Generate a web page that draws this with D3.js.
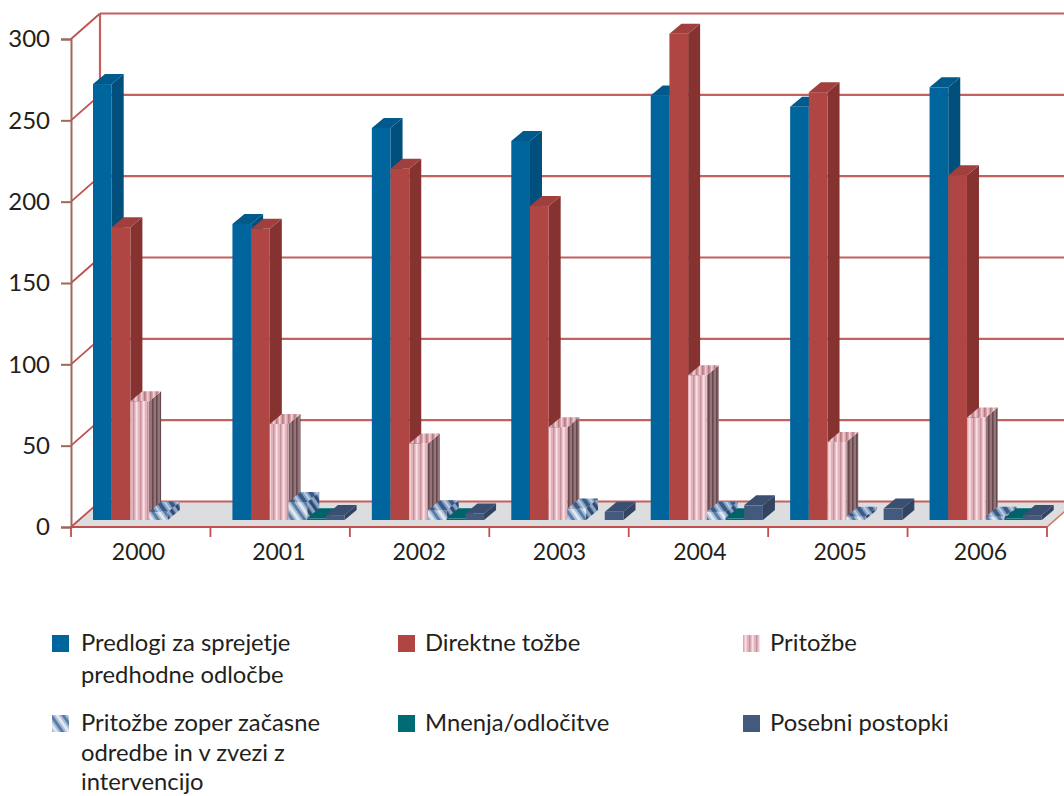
<!DOCTYPE html>
<html>
<head>
<meta charset="utf-8">
<script src="https://cdn.jsdelivr.net/npm/d3@7"></script>
<style>
  html, body { margin: 0; padding: 0; background: #fff; }
  svg { display: block; }
  text { font-family: Lato, "Open Sans", sans-serif; fill: #231f20; }
</style>
</head>
<body>
<div id="chart"></div>
<script>
const years = ['2000', '2001', '2002', '2003', '2004', '2005', '2006'];
const yTicks = [0, 50, 100, 150, 200, 250, 300];

const seriesNames = ['Predlogi', 'Direktne', 'Pritozbe', 'Zacasne', 'Mnenja', 'Posebni'];
const predlogi = [268, 182, 241, 233, 261, 254, 266];
const direktne = [180, 179, 216, 193, 299, 263, 212];
const pritozbe = [73, 59, 47, 57, 89, 48, 63];
const zacasne = [5, 11, 6, 7, 5, 2, 2];
const mnenja = [0, 1, 1, 0, 1, 0, 1];
const posebni = [0, 3, 4, 5, 9, 7, 3];
const seriesValues = [predlogi, direktne, pritozbe, zacasne, mnenja, posebni];

const legendLabels = [
    ['Predlogi za sprejetje', 'predhodne odločbe'],
    ['Direktne tožbe'],
    ['Pritožbe'],
    ['Pritožbe zoper začasne', 'odredbe in v zvezi z', 'intervencijo'],
    ['Mnenja/odločitve'],
    ['Posebni postopki']
];

const width = 1064, height = 796;
const wallDx = 29, wallDy = 25.5;   // depth of the back wall
const barDx = 12, barDy = 10;       // depth of a bar
const baseDx = 8, baseDy = 7;       // bars stand a bit behind the front edge

const svg = d3.select('#chart').append('svg')
    .attr('width', width)
    .attr('height', height);

const x = d3.scaleBand().domain(years).range([71, 1047]);
const xLabels = d3.scalePoint().domain(years).range([138, 980]);
const y = d3.scaleLinear().domain([0, 300]).range([527, 39]);
const xInner = d3.scaleBand().domain(seriesNames).range([14, 14 + 112.2]);

// Patterns and colours for each series
const defs = svg.append('defs');

function stripes(id, w, h, transform, bg, bands) {
    const p = defs.append('pattern')
        .attr('id', id)
        .attr('patternUnits', 'userSpaceOnUse')
        .attr('width', w)
        .attr('height', h);
    if (transform) p.attr('patternTransform', transform);
    p.append('rect').attr('width', w).attr('height', h).attr('fill', bg);
    bands.forEach(b => {
        p.append('rect').attr('x', b[0]).attr('width', b[1]).attr('height', h).attr('fill', b[2]);
    });
}

stripes('pinkFront', 7, 7, null, '#ecc3cb', [[0, 1.5, '#c4929a'], [3, 1.5, '#f7e0e4'], [5.5, 1, '#d9a4ad']]);
stripes('pinkSide', 4, 4, null, '#8a686c', [[0, 1.5, '#66494d'], [2.5, 1, '#a08287']]);
stripes('pinkTop', 6, 6, null, '#dba3ab', [[0, 1.5, '#b27e86'], [3, 1.5, '#f0cfd4']]);
stripes('hatchFront', 10, 10, 'rotate(-35)', '#dfe7f0', [[0, 3, '#5a7da8'], [3, 2, '#a9bdd6'], [8, 2, '#a9bdd6']]);
stripes('hatchTop', 10, 10, 'rotate(-35)', '#b9cbe0', [[0, 4, '#3a5b88'], [4, 2, '#86a0c2'], [8, 2, '#86a0c2']]);
stripes('hatchSide', 7, 7, 'rotate(-35)', '#8ea5c2', [[0, 3.5, '#2f4c76']]);

const seriesStyles = [
    { front: '#00659c', top: '#005a8b', side: '#004f7c' },
    { front: '#b04644', top: '#a03f3d', side: '#863230' },
    { front: 'url(#pinkFront)', top: 'url(#pinkTop)', side: 'url(#pinkSide)' },
    { front: 'url(#hatchFront)', top: 'url(#hatchTop)', side: 'url(#hatchSide)' },
    { front: '#006b74', top: '#00636b', side: '#005a62' },
    { front: '#435a7e', top: '#3b4f70', side: '#324461' }
];

// Walls and floor
const grid = svg.append('g');
const left = x.range()[0], right = x.range()[1];

grid.append('polygon')
    .attr('points', [[left, y(0)], [left + wallDx, y(0) - wallDy], [right + wallDx, y(0) - wallDy], [right, y(0)]].join(' '))
    .attr('fill', '#dcddde');

yTicks.forEach(t => {
    grid.append('line')
        .attr('x1', left + wallDx).attr('x2', width + 20)
        .attr('y1', y(t) - wallDy).attr('y2', y(t) - wallDy)
        .attr('stroke', '#c4605e').attr('stroke-width', 2.2);
    grid.append('line')
        .attr('x1', left).attr('x2', left + wallDx)
        .attr('y1', y(t)).attr('y2', y(t) - wallDy)
        .attr('stroke', '#c04f4d').attr('stroke-width', 1.8);
});

grid.append('line')
    .attr('x1', left + wallDx).attr('x2', left + wallDx)
    .attr('y1', y(300) - wallDy).attr('y2', y(0) - wallDy)
    .attr('stroke', '#c4605e').attr('stroke-width', 2.2);

grid.append('line')
    .attr('x1', right).attr('x2', right + wallDx)
    .attr('y1', y(0)).attr('y2', y(0) - wallDy)
    .attr('stroke', '#c9785f').attr('stroke-width', 1.6);

// Bars, left to right so each one covers the side of the one before
const bars = svg.append('g');

function drawBar(x0, yTop, yBase, w, style) {
    const g = bars.append('g');
    g.append('polygon')
        .attr('points', [[x0 + w, yTop], [x0 + w + barDx, yTop - barDy], [x0 + w + barDx, yBase - barDy], [x0 + w, yBase]].join(' '))
        .attr('fill', style.side);
    g.append('polygon')
        .attr('points', [[x0, yTop], [x0 + barDx, yTop - barDy], [x0 + w + barDx, yTop - barDy], [x0 + w, yTop]].join(' '))
        .attr('fill', style.top);
    g.append('rect')
        .attr('x', x0).attr('y', yTop)
        .attr('width', w).attr('height', yBase - yTop)
        .attr('fill', style.front);
}

years.forEach((year, yi) => {
    seriesNames.forEach((name, si) => {
        const v = seriesValues[si][yi];
        if (v === 0) return;
        drawBar(
            x(year) + xInner(name) + baseDx,
            y(v) - baseDy,
            y(0) - baseDy,
            xInner.bandwidth(),
            seriesStyles[si]
        );
    });
});

// Axes
const yAxis = svg.append('g')
    .attr('transform', `translate(${left},0)`)
    .call(d3.axisLeft(y).tickValues(yTicks).tickSize(10).tickPadding(11).tickFormat(d3.format('d')));
yAxis.select('.domain').attr('stroke', '#9b6a5c').attr('stroke-width', 2);
yAxis.selectAll('.tick line').attr('stroke', '#9b6a5c').attr('stroke-width', 2);
yAxis.selectAll('text').style('font-size', '24px').style('fill', '#231f20');

svg.append('line')
    .attr('x1', left).attr('x2', right)
    .attr('y1', y(0)).attr('y2', y(0))
    .attr('stroke', '#c04f4d').attr('stroke-width', 2);

const xAxis = svg.append('g')
    .attr('transform', `translate(0,${y(0)})`)
    .call(d3.axisBottom(xLabels).tickSize(0).tickPadding(17));
xAxis.select('.domain').remove();
xAxis.selectAll('text').style('font-size', '23px').style('fill', '#231f20');

const boundaries = years.map(d => x(d)).concat(right);
svg.append('g').selectAll('line')
    .data(boundaries)
    .enter()
    .append('line')
    .attr('x1', d => d).attr('x2', d => d)
    .attr('y1', y(0)).attr('y2', y(0) + 10)
    .attr('stroke', '#c04f4d').attr('stroke-width', 1.8);

// Legend
const legendX = [52, 398, 743];
const legendTextX = [81, 425, 770];
const legendY = [635, 715];
const legendGap = [32, 29.5];   // last row has to stay inside the page

const legend = svg.append('g');
legendLabels.forEach((lines, i) => {
    const col = i % 3, row = Math.floor(i / 3);
    legend.append('rect')
        .attr('x', legendX[col]).attr('y', legendY[row])
        .attr('width', 17).attr('height', 17)
        .attr('fill', seriesStyles[i].front);
    legend.append('text')
        .attr('y', legendY[row] + 16)
        .style('font-size', '23.8px')
        .selectAll('tspan')
        .data(lines)
        .enter()
        .append('tspan')
        .attr('x', legendTextX[col])
        .attr('dy', (d, k) => k === 0 ? 0 : legendGap[row])
        .text(d => d);
});
</script>
</body>
</html>
